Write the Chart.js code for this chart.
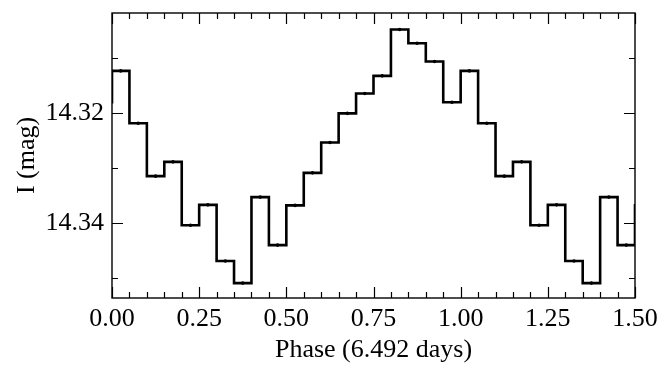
<!DOCTYPE html>
<html>
<head>
<meta charset="utf-8">
<script src="https://cdn.jsdelivr.net/npm/chart.js@4/dist/chart.umd.min.js"></script>
<style>
  html, body { margin: 0; padding: 0; background: #fff; }
  #lc { display: block; }
</style>
</head>
<body>
<canvas id="lc" width="672" height="378"></canvas>
<script>
// binned I-band magnitudes, 20 phase bins of width 0.05 (bin centres 0.025 ... 0.975)
const binWidth = 0.05;
const binMags = [14.3124, 14.3219, 14.3315, 14.3289, 14.3404, 14.3367, 14.3469, 14.3509, 14.3353, 14.3440,
                 14.3368, 14.3309, 14.3254, 14.3201, 14.3165, 14.3133, 14.3049, 14.3074, 14.3107, 14.3181];

// axis ticks
const xMajor = [0, 0.25, 0.5, 0.75, 1.0, 1.25, 1.5];
const xMinor = [0.05, 0.1, 0.15, 0.2, 0.3, 0.35, 0.4, 0.45, 0.55, 0.6, 0.65, 0.7, 0.8, 0.85, 0.9, 0.95,
                1.05, 1.1, 1.15, 1.2, 1.3, 1.35, 1.4, 1.45];
const yMajor = [14.32, 14.34];
const yMinor = [14.31, 14.33, 14.35];

// phase folded twice, one extra bin at each side so the steps reach the frame
const points = [];
for (let k = 0; k < 32; k++) {
    points.push({ x: -binWidth / 2 + binWidth * k, y: binMags[(k + 19) % 20] });
}

const fontFam = '"Liberation Serif", "DejaVu Serif", serif';

// ticks pointing inwards on all four sides + frame
const frameTicks = {
    id: 'frameTicks',
    afterDraw(chart) {
        const { ctx, chartArea: a, scales: { x, y } } = chart;
        ctx.save();
        ctx.strokeStyle = '#000';
        ctx.lineWidth = 1.2;
        const tickX = (v, len) => {
            const px = Math.round(x.getPixelForValue(v)) + 0.5;
            ctx.beginPath();
            ctx.moveTo(px, a.bottom); ctx.lineTo(px, a.bottom - len);
            ctx.moveTo(px, a.top); ctx.lineTo(px, a.top + len);
            ctx.stroke();
        };
        const tickY = (v, len) => {
            const py = Math.round(y.getPixelForValue(v)) + 0.5;
            ctx.beginPath();
            ctx.moveTo(a.left, py); ctx.lineTo(a.left + len, py);
            ctx.moveTo(a.right, py); ctx.lineTo(a.right - len, py);
            ctx.stroke();
        };
        xMajor.forEach(v => tickX(v, 11));
        xMinor.forEach(v => tickX(v, 6));
        yMajor.forEach(v => tickY(v, 11));
        yMinor.forEach(v => tickY(v, 6));
        ctx.lineWidth = 1.4;
        ctx.strokeRect(a.left, a.top, a.right - a.left, a.bottom - a.top);
        ctx.restore();
    }
};

new Chart(document.getElementById('lc').getContext('2d'), {
    type: 'line',
    data: {
        datasets: [{
            data: points,
            stepped: 'middle',
            borderColor: '#000',
            borderWidth: 2.6,
            pointRadius: 1.8,
            pointBackgroundColor: '#000',
            pointBorderWidth: 0,
            fill: false,
            clip: 0
        }]
    },
    options: {
        responsive: false,
        animation: false,
        layout: { padding: { top: 13, right: 37, left: 0, bottom: 0 } },
        plugins: { legend: { display: false }, tooltip: { enabled: false } },
        scales: {
            x: {
                type: 'linear',
                min: 0,
                max: 1.5,
                grid: { display: false, drawTicks: false },
                border: { display: false },
                afterBuildTicks: s => { s.ticks = xMajor.map(v => ({ value: v })); },
                afterFit: s => { s.height = 80; s.paddingLeft = 0; s.paddingRight = 0; },
                ticks: {
                    color: '#000',
                    font: { family: fontFam, size: 26 },
                    padding: 6,
                    maxRotation: 0,
                    callback: v => Number(v).toFixed(2)
                },
                title: {
                    display: true,
                    text: 'Phase (6.492 days)',
                    color: '#000',
                    font: { family: fontFam, size: 26 },
                    padding: { top: 0, bottom: 12 }
                }
            },
            y: {
                type: 'linear',
                reverse: true,
                min: 14.3019,
                max: 14.3536,
                grid: { display: false, drawTicks: false },
                border: { display: false },
                afterBuildTicks: s => { s.ticks = yMajor.map(v => ({ value: v })); },
                afterFit: s => { s.width = 112; s.paddingTop = 0; s.paddingBottom = 0; },
                ticks: {
                    color: '#000',
                    font: { family: fontFam, size: 26 },
                    padding: 8,
                    callback: v => Number(v).toFixed(2)
                },
                title: {
                    display: true,
                    text: 'I (mag)',
                    color: '#000',
                    font: { family: fontFam, size: 26 },
                    padding: { top: 12, bottom: 0 }
                }
            }
        }
    },
    plugins: [frameTicks]
});
</script>
</body>
</html>
